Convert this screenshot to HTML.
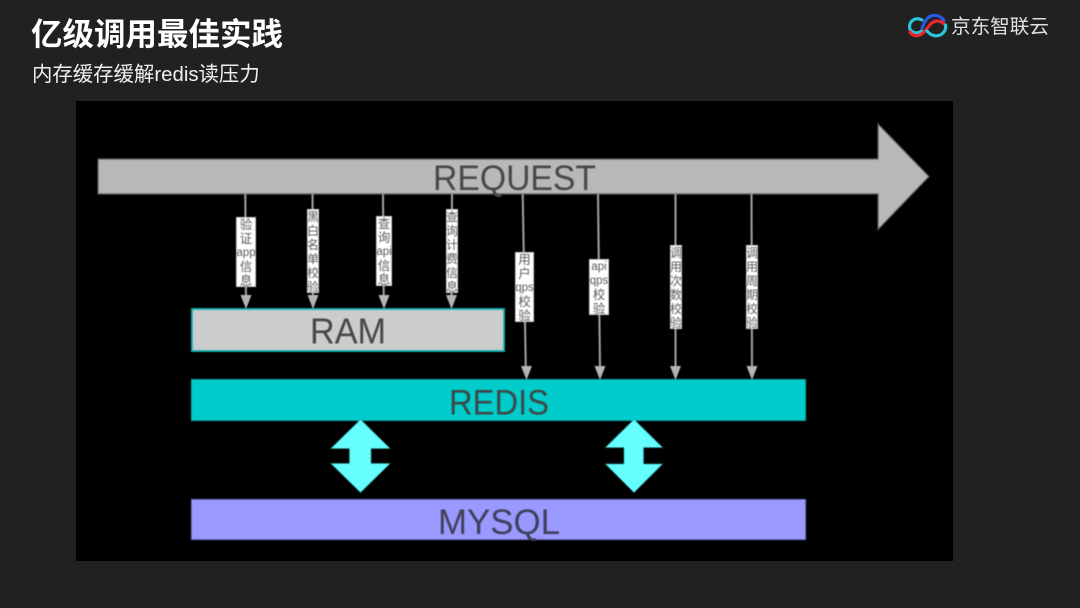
<!DOCTYPE html>
<html lang="zh">
<head>
<meta charset="utf-8">
<title>亿级调用最佳实践</title>
<style>
html,body{margin:0;padding:0;background:#212121;}
#p{position:relative;width:1080px;height:608px;overflow:hidden;background:#212121;font-family:"Liberation Sans","Noto Sans CJK SC",sans-serif;}
.t{position:absolute;white-space:nowrap;filter:blur(.35px);}
svg{position:absolute;left:0;top:0;}
.l{position:absolute;background:#fff;border:1px solid #ccc;box-sizing:border-box;color:#5a5a5a;font-size:12.5px;line-height:14px;text-align:center;overflow:hidden;white-space:nowrap;filter:blur(.4px);}
.l span{display:block;margin:0 -6px;}
.l span.e{font-size:11.5px;}
.n{font-size:12px;}
</style>
</head>
<body>
<div id="p">
<div class="t" style="left:31px;top:15px;font-size:31.5px;line-height:38px;font-weight:700;color:#fff;">亿级调用最佳实践</div>
<div class="t" style="left:32px;top:62px;font-size:20.4px;line-height:26px;color:#f0f0f0;">内存缓存缓解redis读压力</div>
<div class="t" style="left:951px;top:15px;font-size:19.6px;line-height:24px;color:#e0e0e0;">京东智联云</div>

<svg width="1080" height="608" viewBox="0 0 1080 608">
  <!-- logo -->
  <g fill="none" stroke-width="3.2" stroke-linecap="round" style="filter:blur(.3px)">
    <path d="M922 20 C916 17 910 20 909.5 26.5 C909.5 32 916 35 922 31" stroke="#2cc6dc"/>
    <path d="M922 28 C925 21 928 16 933 15.5 C938 15 942 17 944 21" stroke="#2a57e0"/>
    <path d="M910 32 C913 37 920 37 925 31 C929 26 932 21 937 21 C940 21 942 22 944 24" stroke="#e5262c"/>
    <path d="M927 31 C932 37 939 37 943 33 C946 30 946 27 945.5 25" stroke="#2cc6dc"/>
  </g>

  <rect x="76" y="101" width="877" height="460" fill="#000"/>

  <g style="filter:blur(.4px)">
  <!-- REQUEST arrow -->
  <polygon points="98,159 878,159 878,124 929,176.5 878,229.5 878,194 98,194" fill="#b8b8b8" stroke="#5c5c5c" stroke-width="1.2"/>
  <text x="433" y="190" font-family="Liberation Sans,sans-serif" font-size="35" fill="#484848" textLength="163" lengthAdjust="spacingAndGlyphs">REQUEST</text>

  <!-- connectors -->
  <g stroke="#a4a4a4" stroke-width="2">
    <line x1="245.3" y1="194" x2="246" y2="297"/>
    <line x1="312.5" y1="194" x2="313" y2="297"/>
    <line x1="383" y1="194" x2="383.7" y2="297"/>
    <line x1="452" y1="194" x2="451.5" y2="297"/>
    <line x1="522.7" y1="194" x2="525.8" y2="368"/>
    <line x1="598" y1="194" x2="600" y2="368"/>
    <line x1="675.5" y1="194" x2="675.5" y2="368"/>
    <line x1="751.5" y1="194" x2="752" y2="368"/>
  </g>
  <g fill="#b4b4b4">
    <polygon points="240.5,295 251.5,295 246,309"/>
    <polygon points="307.5,295 318.5,295 313,309"/>
    <polygon points="378.5,295 389.5,295 384,309"/>
    <polygon points="446,295 457,295 451.5,309"/>
    <polygon points="521,366 532,366 526.5,380"/>
    <polygon points="594.5,366 605.5,366 600,380"/>
    <polygon points="670,366 681,366 675.5,380"/>
    <polygon points="746.5,366 757.5,366 752,380"/>
  </g>

  <!-- RAM -->
  <rect x="192" y="309" width="312" height="42" fill="#cccccc" stroke="#12b5b5" stroke-width="1.8"/>
  <text x="310" y="343.5" font-family="Liberation Sans,sans-serif" font-size="36" fill="#484848" textLength="76" lengthAdjust="spacingAndGlyphs">RAM</text>

  <!-- REDIS -->
  <rect x="191.5" y="379.5" width="614" height="41" fill="#00cccc" stroke="#0aa8a8" stroke-width="1"/>
  <text x="449" y="414.5" font-family="Liberation Sans,sans-serif" font-size="35" fill="#3c4848" textLength="100" lengthAdjust="spacingAndGlyphs">REDIS</text>

  <!-- MYSQL -->
  <rect x="191.5" y="499.5" width="614" height="40" fill="#9999ff" stroke="#7272c4" stroke-width="1"/>
  <text x="438" y="534" font-family="Liberation Sans,sans-serif" font-size="35" fill="#40405a" textLength="122" lengthAdjust="spacingAndGlyphs">MYSQL</text>

  <!-- double arrows -->
  <polygon points="360.5,419.5 390,448.5 371,448.5 371,463.5 390,463.5 360.5,492.5 331,463.5 349.5,463.5 349.5,448.5 331,448.5" fill="#66ffff" stroke="#33aaaa" stroke-width=".6"/>
  <polygon points="634,419.5 662.5,447.5 643.5,447.5 643.5,464 662.5,464 634,492.5 605.5,464 624,464 624,447.5 605.5,447.5" fill="#66ffff" stroke="#33aaaa" stroke-width=".6"/>
  </g>
</svg>

<div class="l" style="left:236px;top:217px;width:20px;height:70px;"><span>验</span><span>证</span><span class="e">app</span><span>信</span><span>息</span></div>
<div class="l n" style="left:307px;top:209px;width:12px;height:84px;"><span>黑</span><span>白</span><span>名</span><span>单</span><span>校</span><span>验</span></div>
<div class="l" style="left:376px;top:216px;width:16px;height:70px;"><span>查</span><span>询</span><span class="e">api</span><span>信</span><span>息</span></div>
<div class="l n" style="left:446px;top:209px;width:12px;height:84px;"><span>查</span><span>询</span><span>计</span><span>费</span><span>信</span><span>息</span></div>
<div class="l" style="left:515px;top:252px;width:19px;height:70px;"><span>用</span><span>户</span><span class="e">qps</span><span>校</span><span>验</span></div>
<div class="l" style="left:589px;top:259px;width:20px;height:56px;"><span class="e">api</span><span class="e">qps</span><span>校</span><span>验</span></div>
<div class="l n" style="left:670px;top:245px;width:12px;height:84px;"><span>调</span><span>用</span><span>次</span><span>数</span><span>校</span><span>验</span></div>
<div class="l n" style="left:746px;top:245px;width:12px;height:84px;"><span>调</span><span>用</span><span>周</span><span>期</span><span>校</span><span>验</span></div>
</div>
</body>
</html>
